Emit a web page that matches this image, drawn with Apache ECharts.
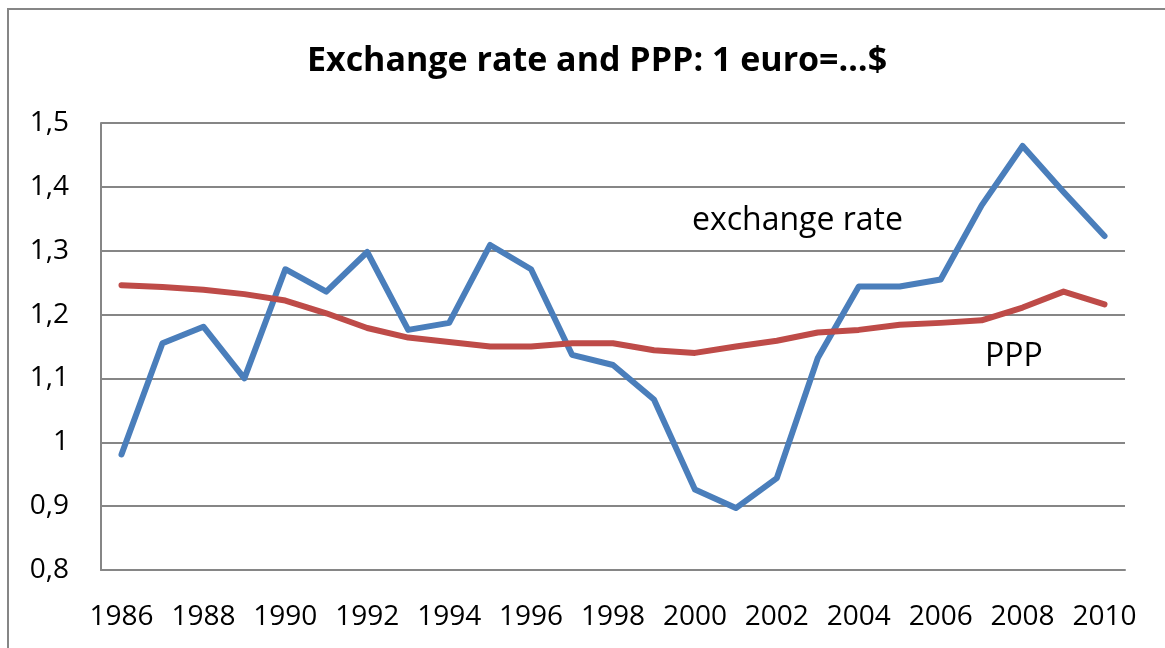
<!DOCTYPE html>
<html>
<head>
<meta charset="utf-8">
<script src="https://cdn.jsdelivr.net/npm/echarts@6/dist/echarts.min.js"></script>
<style>
  html, body { margin: 0; padding: 0; background: #fff; }
  #chart { width: 1165px; height: 648px; }
</style>
</head>
<body>
<div id="chart"></div>
<script>
var years = ['1986','1987','1988','1989','1990','1991','1992','1993','1994','1995','1996','1997',
  '1998','1999','2000','2001','2002','2003','2004','2005','2006','2007','2008','2009','2010'];
var exchangeRate = [0.981, 1.155, 1.181, 1.100, 1.271, 1.236, 1.298, 1.176, 1.187, 1.309, 1.271, 1.137,
  1.121, 1.067, 0.926, 0.897, 0.944, 1.132, 1.244, 1.244, 1.255, 1.371, 1.464, 1.392, 1.323];
var ppp = [1.246, 1.243, 1.239, 1.232, 1.222, 1.202, 1.179, 1.164, 1.157, 1.150, 1.150, 1.155,
  1.155, 1.144, 1.140, 1.150, 1.159, 1.172, 1.176, 1.184, 1.187, 1.191, 1.211, 1.236, 1.216];

var font = '"Open Sans", "Liberation Sans", sans-serif';
var grey = '#868686';

var chart = echarts.init(document.getElementById('chart'), null, { renderer: 'canvas' });
chart.setOption({
  animation: false,
  backgroundColor: '#fff',
  title: {
    text: 'Exchange rate and PPP: 1 euro=…$',
    left: 592, top: 39, textAlign: 'center',
    textStyle: { fontFamily: font, fontSize: 34, fontWeight: 'bold', color: '#000' }
  },
  grid: { left: 101, right: 40, top: 123, bottom: 78 },
  xAxis: {
    type: 'category', data: years, boundaryGap: true,
    axisLine: { lineStyle: { color: grey, width: 2 } },
    axisTick: { show: false },
    axisLabel: { interval: 1, color: '#000', fontFamily: font, fontSize: 28, margin: 33 }
  },
  yAxis: {
    type: 'value', min: 0.8, max: 1.5, interval: 0.1,
    axisLine: { show: true, lineStyle: { color: grey, width: 2 } },
    axisTick: { show: false },
    splitLine: { lineStyle: { color: grey, width: 2 } },
    axisLabel: {
      color: '#000', fontFamily: font, fontSize: 28, margin: 32,
      formatter: function (v) { return v.toFixed(1).replace('.', ',').replace(',0', ''); }
    }
  },
  series: [
    { name: 'exchange rate', type: 'line', data: exchangeRate, symbol: 'none',
      lineStyle: { color: '#4A7EBB', width: 6, cap: 'round', join: 'round' }, itemStyle: { color: '#4A7EBB' } },
    { name: 'PPP', type: 'line', data: ppp, symbol: 'none',
      lineStyle: { color: '#BE4B48', width: 6, cap: 'round', join: 'round' }, itemStyle: { color: '#BE4B48' } }
  ],
  graphic: [
    { type: 'rect', shape: { x: 8, y: 9, width: 1200, height: 700 }, silent: true, z: -1,
      style: { fill: 'none', stroke: grey, lineWidth: 2 } },
    { type: 'text', x: 692, y: 221, silent: true,
      style: { text: 'exchange rate', fontFamily: font, fontSize: 32, fill: '#000', verticalAlign: 'middle' } },
    { type: 'text', x: 985, y: 357, silent: true,
      style: { text: 'PPP', fontFamily: font, fontSize: 32, fill: '#000', verticalAlign: 'middle' } }
  ]
});
</script>
</body>
</html>
